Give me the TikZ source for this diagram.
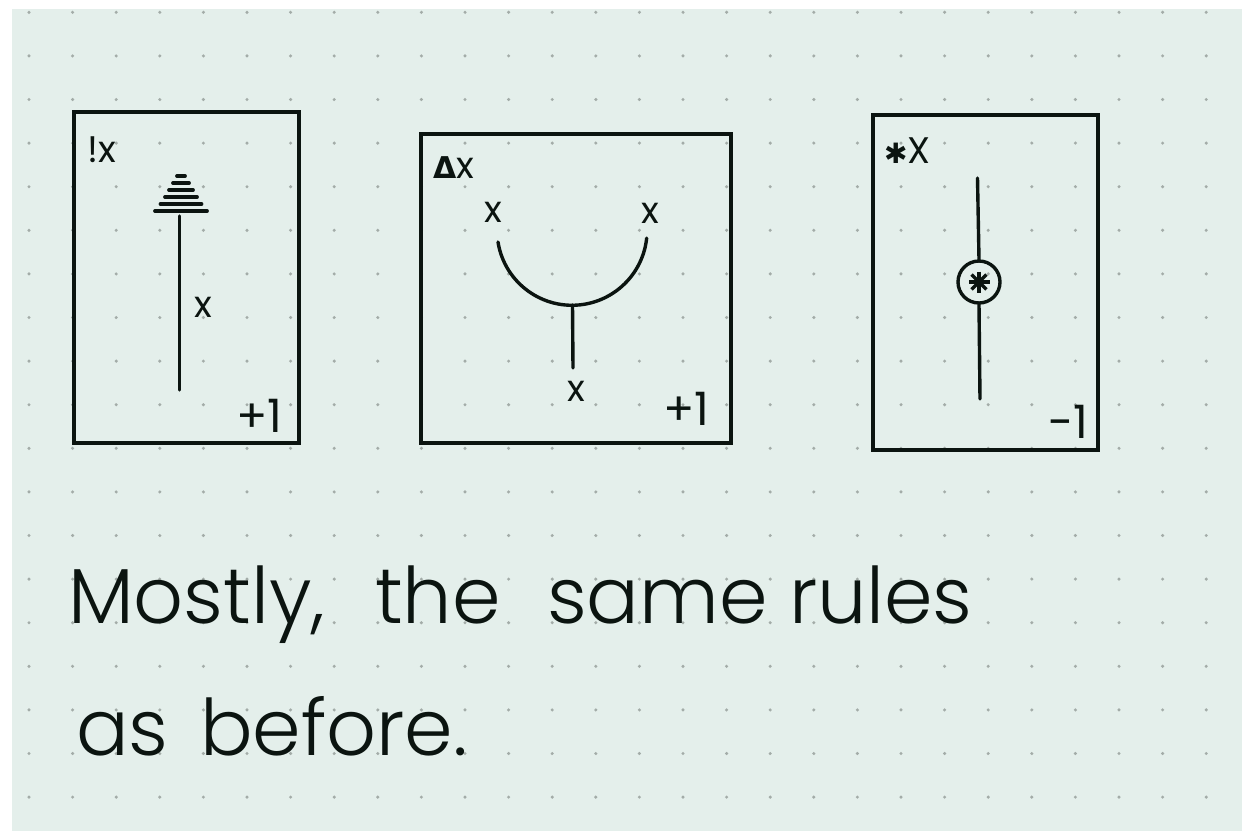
\documentclass[tikz,border=0pt]{standalone}
\usepackage{fontspec}
\usetikzlibrary{calc}
\newfontfamily\hand{Poppins Light}
\newfontfamily\handr{Poppins}
\newfontfamily\symf{DejaVu Sans}
\definecolor{paper}{HTML}{E4EFEB}
\definecolor{dotc}{HTML}{A3ACA8}
\definecolor{ink}{HTML}{0B1410}
\tikzset{
  card/.style={draw=ink, line width=3.8pt, inner sep=0pt, outer sep=0pt},
  wire/.style={draw=ink, line width=3.4pt, line cap=round},
  rung/.style={draw=ink, line width=3.8pt, line cap=round},
  lbl/.style={text=ink, inner sep=0pt, outer sep=0pt, font=\handr\fontsize{37}{41}\selectfont},
  xmark/.style={text=ink, inner sep=0pt, outer sep=0pt, font=\handr\fontsize{37}{41}\selectfont},
  num/.style={text=ink, inner sep=0pt, outer sep=0pt, font=\handr\fontsize{46}{50}\selectfont},
  big/.style={text=ink, inner sep=0pt, outer sep=0pt, anchor=base west, font=\hand\fontsize{78}{86}\selectfont},
}
\begin{document}
\begin{tikzpicture}[x=1pt, y=-1pt]
\useasboundingbox (0,0) rectangle (1242,831);
\fill[white] (0,0) rectangle (1242,831);
\fill[paper] (12,9) rectangle (1242,831);
\foreach \i in {0,...,27}{
  \foreach \j in {0,...,18}{
    \fill[dotc] ({29+43.6*\i},{12.3+43.6*\j}) circle[radius=1.7pt];
  }
}
% ---------- card 1 ----------
\node[card, minimum width=225pt, minimum height=331pt] (c1) at (186.5,277.5) {};
\node[lbl, anchor=base west] (l1) at (87,162) {!x};
\foreach \yy/\hw in {176/4, 183/8, 190/12, 197/16, 204/20.5, 211/26}{
  \draw[rung] ({181-\hw},\yy) -- ({181+\hw},\yy);
}
\coordinate (s1t) at (179.5,216);
\coordinate (s1b) at (179.5,390);
\draw[wire] (s1t) -- (s1b);
\node[xmark] (x1) at (203,307) {x};
\node[num, anchor=base west] (n1) at (236,432) {+1};
% ---------- card 2 ----------
\node[card, minimum width=310pt, minimum height=309pt] (c2) at (576,288.5) {};
\node[lbl, anchor=base west] (l2) at (433,178) {{\symf\bfseries\fontsize{30}{34}\selectfont Δ}x};
\node[xmark] (x2a) at (493,212) {x};
\node[xmark] (x2b) at (650,213) {x};
\coordinate (arcL) at (498,242);
\coordinate (arcB) at (572.5,305);
\coordinate (stemB) at (573,368);
\draw[wire] (arcL) arc[start angle=189, end angle=354, radius=75pt];
\draw[wire] (arcB) -- (stemB);
\node[xmark] (x2c) at (576,391) {x};
\node[num, anchor=base west] (n2) at (663,425) {+1};
% ---------- card 3 ----------
\node[card, minimum width=225pt, minimum height=335pt] (c3) at (985.5,282.5) {};
\node[lbl, anchor=base west] (l3) at (884,163) {{\symf\fontsize{28}{32}\selectfont ✱}X};
\node[draw=ink, line width=3.4pt, circle, minimum size=42pt, inner sep=0pt] (op) at (979,282) {};
\foreach \a in {0,45,90,135}{
  \draw[ink, line width=3.4pt] ($(op)+(\a:10.5pt)$) -- ($(op)+(\a+180:10.5pt)$);
}
\coordinate (s3t) at (977.5,178);
\coordinate (s3b) at (980,399);
\draw[wire] (s3t) -- (op.north);
\draw[wire] (op.south) -- (s3b);
\node[num, anchor=base west] (n3) at (1048,438) {-1};
% ---------- text ----------
\node[big] (w1) at (68,623) {Mostly,};
\node[big] (w2) at (375,623) {the};
\node[big] (w3) at (547,623) {same};
\node[big] (w4) at (789,623) {rules};
\node[big] (w5) at (76,755) {as};
\node[big] (w6) at (200,755) {before.};
\end{tikzpicture}
\end{document}
